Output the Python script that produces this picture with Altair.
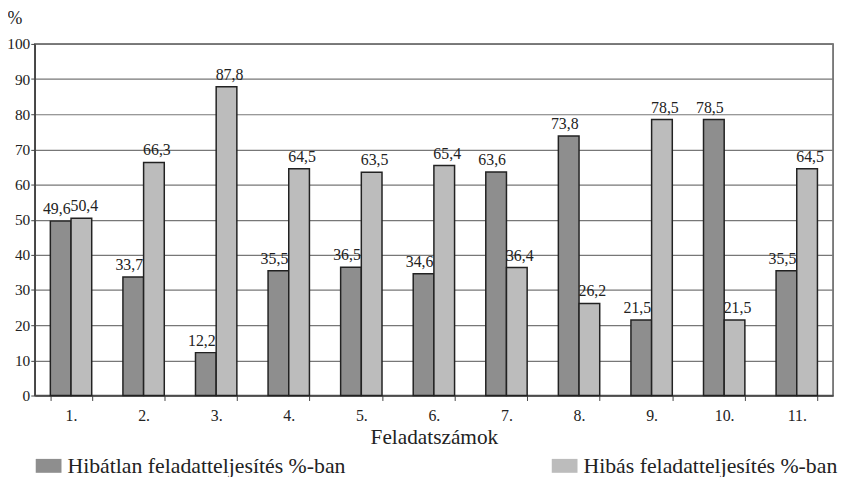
import altair as alt
import pandas as pd

categories = ["1.", "2.", "3.", "4.", "5.", "6.", "7.", "8.", "9.", "10.", "11."]
hibatlan = [49.6, 33.7, 12.2, 35.5, 36.5, 34.6, 63.6, 73.8, 21.5, 78.5, 35.5]
hibas = [50.4, 66.3, 87.8, 64.5, 63.5, 65.4, 36.4, 26.2, 78.5, 21.5, 64.5]
series = ["Hibátlan feladatteljesítés %-ban", "Hibás feladatteljesítés %-ban"]
colors = ["#8e8e8e", "#bcbcbc"]

rows = []
for i, c in enumerate(categories):
    rows.append({"cat": c, "series": series[0], "value": hibatlan[i],
                 "label": f"{hibatlan[i]:.1f}".replace(".", ",")})
    rows.append({"cat": c, "series": series[1], "value": hibas[i],
                 "label": f"{hibas[i]:.1f}".replace(".", ",")})
df = pd.DataFrame(rows)

FONT = "Liberation Serif"

x = alt.X("cat:N", sort=categories,
          scale=alt.Scale(paddingInner=0.43, paddingOuter=0.215),
          axis=alt.Axis(title="Feladatszámok", labelAngle=0, tickBand="extent",
                        labelFontSize=16, titleFontSize=21.5, titleFontWeight="normal",
                        labelPadding=7, titlePadding=3, tickSize=5,
                        domainColor="#444", domainWidth=1.5, tickColor="#444",
                        labelColor="#222", titleColor="#222"))
y = alt.Y("value:Q", scale=alt.Scale(domain=[0, 100], nice=False),
          axis=alt.Axis(title="%", values=list(range(0, 101, 10)), tickCount=11,
                        titleAngle=0, titleX=-28, titleY=-17, titleAlign="left",
                        titleBaseline="bottom", titleFontSize=18, titleFontWeight="normal",
                        labelFontSize=15.5, tickSize=4, labelPadding=1,
                        grid=True, gridColor="#777", gridWidth=1.2,
                        domainColor="#444", domainWidth=1.5, tickColor="#444",
                        labelColor="#222", titleColor="#222"))
xo = alt.XOffset("series:N", sort=series)
color = alt.Color("series:N", sort=series,
                  scale=alt.Scale(domain=series, range=colors),
                  legend=alt.Legend(title=None, orient="none", legendX=1, legendY=413,
                                    direction="horizontal", labelFontSize=22,
                                    labelLimit=500, columnPadding=208,
                                    symbolType="M-1,-0.54H1V0.54H-1Z", symbolSize=676,
                                    symbolStrokeWidth=0, symbolOpacity=1,
                                    labelColor="#222", symbolOffset=0, labelOffset=6))

bars = alt.Chart(df).mark_bar(stroke="#222", strokeWidth=1.5, opacity=1).encode(
    x=x, y=y, xOffset=xo, color=color)

lab_dark = alt.Chart(df).transform_filter(alt.datum.series == series[0]).mark_text(
    baseline="bottom", dy=-4, dx=-4, fontSize=16, font=FONT, color="#222").encode(
    x=alt.X("cat:N", sort=categories), y="value:Q", xOffset=xo, text="label:N")
lab_light = alt.Chart(df).transform_filter(alt.datum.series == series[1]).mark_text(
    baseline="bottom", dy=-4, dx=3, fontSize=16, font=FONT, color="#222").encode(
    x=alt.X("cat:N", sort=categories), y="value:Q", xOffset=xo, text="label:N")

chart = alt.layer(bars, lab_dark, lab_light).properties(
    width=806, height=355,
    padding={"left": 27, "top": 34, "right": 5, "bottom": 80},
    autosize=alt.AutoSizeParams(type="none"),
).configure(font=FONT).configure_view(stroke="#555", strokeWidth=1.5).configure_axis(
    labelFont=FONT, titleFont=FONT).configure_legend(labelFont=FONT)

chart.save("out.html", embed_options={"renderer": "svg", "actions": False})
